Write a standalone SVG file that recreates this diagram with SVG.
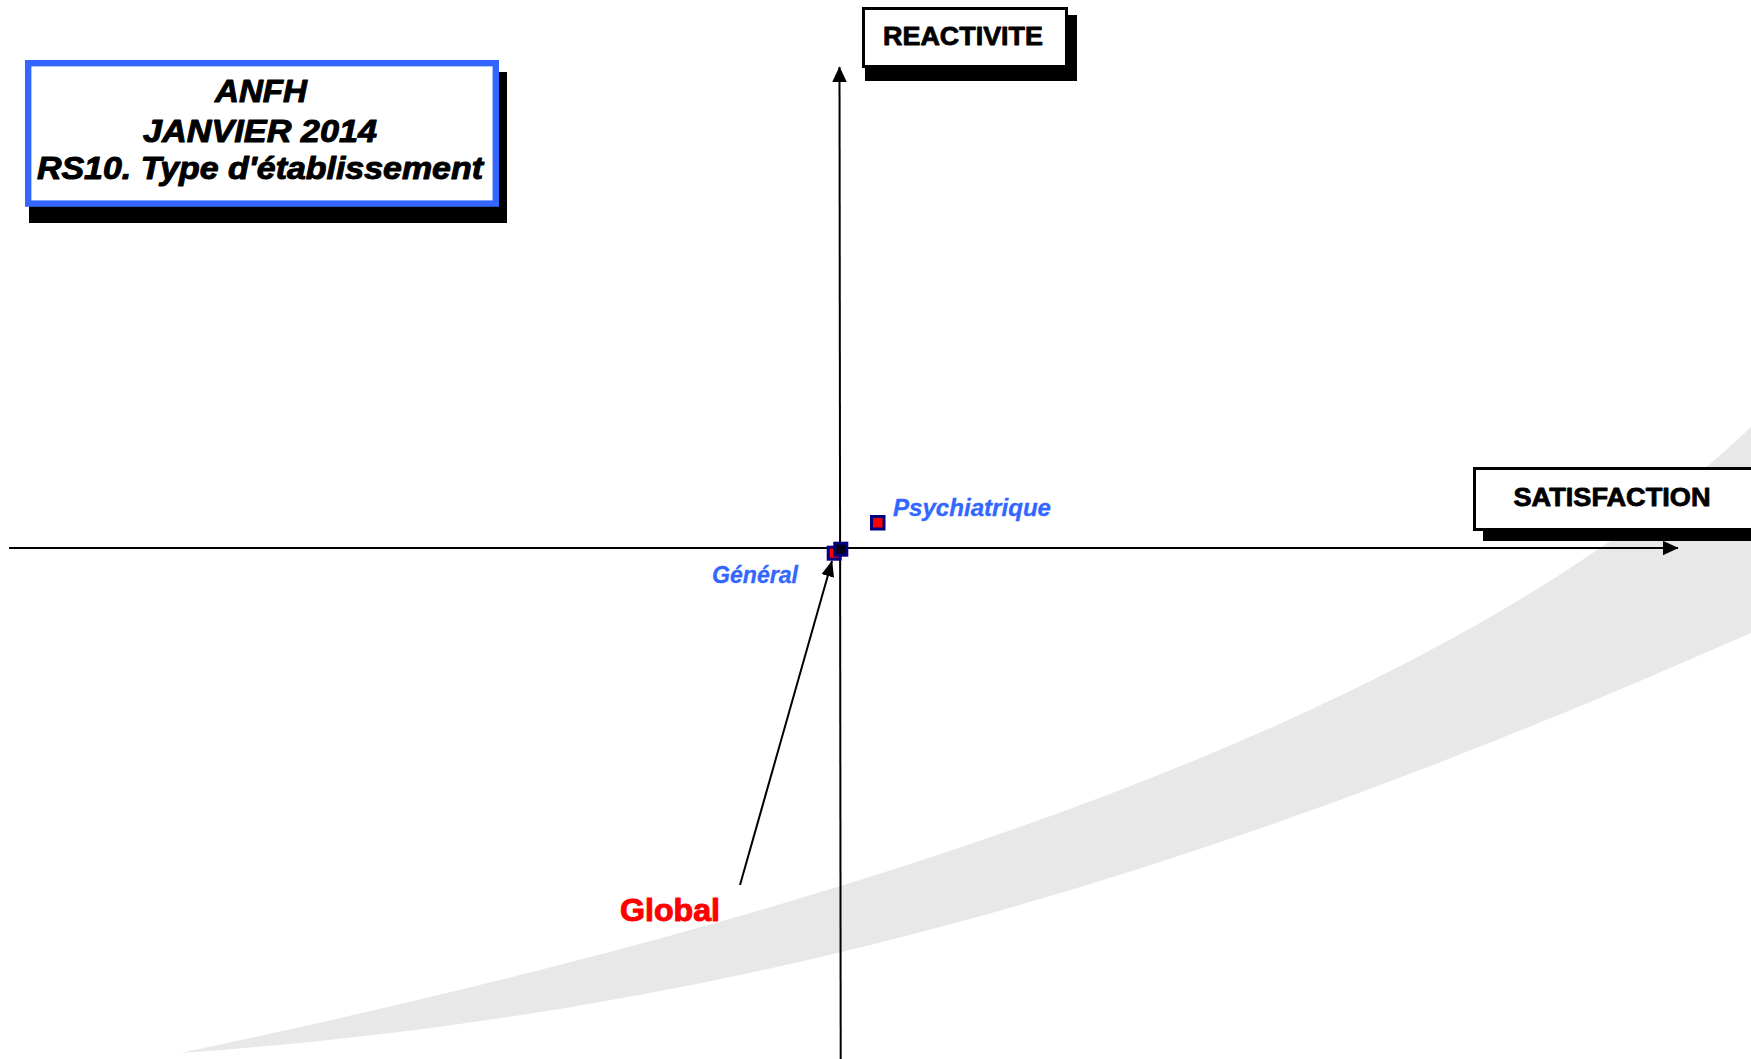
<svg xmlns="http://www.w3.org/2000/svg" width="1751" height="1059" viewBox="0 0 1751 1059">
<style>
.heavy{font-family:"Liberation Sans",Arial,sans-serif;font-weight:bold;stroke-width:1;stroke-linejoin:round}
.title{font-size:31px;font-style:italic;fill:#000;stroke:#000;text-anchor:middle}
.axlbl{font-size:26px;fill:#000;stroke:#000;stroke-width:0.8;text-anchor:middle}
.ptlbl{font-family:"Liberation Sans",Arial,sans-serif;font-weight:bold;font-style:italic;font-size:23px;fill:#3366FF;stroke:#3366FF;stroke-width:0.3}
.shadow{fill:#000}
.box{fill:#fff;stroke:#000;stroke-width:3}
.axis{stroke:#000;stroke-width:2;fill:none}
.pt{stroke:#000080;stroke-width:3}
</style>
<defs>
<marker id="arr" viewBox="0 0 16 15" markerWidth="16" markerHeight="15" refX="15.5" refY="7.5" orient="auto" markerUnits="userSpaceOnUse">
<path d="M0,0 L16,7.5 L0,15 z" fill="#000"/>
</marker>
<marker id="arr2" viewBox="0 0 16 13" markerWidth="16" markerHeight="13" refX="15.5" refY="6.5" orient="auto" markerUnits="userSpaceOnUse">
<path d="M0,0 L16,6.5 L0,13 z" fill="#000"/>
</marker>
</defs>
<rect width="1751" height="1059" fill="#fff"/>
<g id="swoosh">
<path d="M1751,427 C1451,712 880,906 180,1053 C780,1011 1251,853 1751,633 Z" fill="#E8E8E8"/>
</g>
<g id="connectors">
<line class="axis" x1="9" y1="548" x2="1678" y2="548" marker-end="url(#arr)"/>
<line class="axis" x1="840.7" y1="1059" x2="839.5" y2="67" marker-end="url(#arr)"/>
<line class="axis" stroke-width="2.5" x1="740" y1="885" x2="832" y2="561" marker-end="url(#arr2)"/>
</g>
<g id="title">
<rect class="shadow" x="29" y="72" width="478" height="151"/>
<rect x="28.2" y="63.2" width="467.6" height="140.4" fill="#fff" stroke="#3366FF" stroke-width="6.4"/>
<text class="heavy title" x="261" y="102" textLength="92" lengthAdjust="spacingAndGlyphs">ANFH</text>
<text class="heavy title" x="260" y="142" textLength="234" lengthAdjust="spacingAndGlyphs">JANVIER 2014</text>
<text class="heavy title" x="260" y="179" textLength="446" lengthAdjust="spacingAndGlyphs">RS10. Type d'établissement</text>
</g>
<g id="reactivite">
<rect class="shadow" x="865" y="15" width="212" height="66"/>
<rect class="box" x="863.5" y="8.5" width="203" height="58"/>
<text class="heavy axlbl" x="963" y="45" textLength="160" lengthAdjust="spacingAndGlyphs">REACTIVITE</text>
</g>
<g id="satisfaction">
<rect class="shadow" x="1483" y="475" width="280" height="66"/>
<rect class="box" x="1474.5" y="468.5" width="290" height="61"/>
<text class="heavy axlbl" x="1612" y="506" textLength="197" lengthAdjust="spacingAndGlyphs">SATISFACTION</text>
</g>
<g id="psychiatrique">
<rect class="pt" x="871.5" y="516.5" width="12.5" height="12.5" fill="#FF0000"/>
<text class="ptlbl" x="893" y="516" textLength="158" lengthAdjust="spacingAndGlyphs">Psychiatrique</text>
</g>
<g id="general">
<rect class="pt" x="828.2" y="547.2" width="12" height="12" fill="#FF0000"/>
<text class="ptlbl" x="712" y="583" textLength="86" lengthAdjust="spacingAndGlyphs">Général</text>
</g>
<g id="global">
<rect class="pt" x="834.8" y="543.2" width="12" height="12" fill="#000018"/>
<text class="heavy" x="620" y="921" font-size="31" fill="#FF0000" stroke="#FF0000" textLength="100" lengthAdjust="spacingAndGlyphs">Global</text>
</g>
</svg>
